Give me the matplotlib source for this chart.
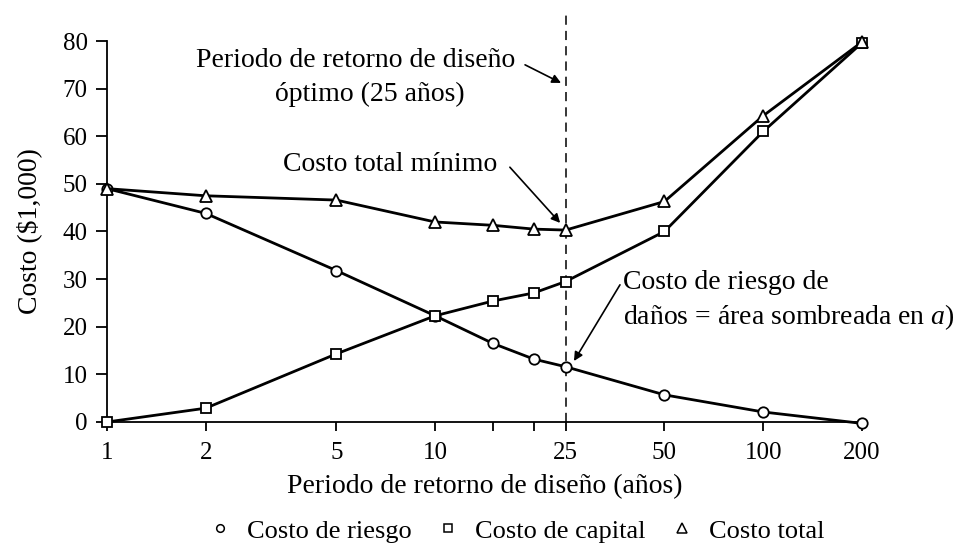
import matplotlib
matplotlib.use("Agg")
import matplotlib.pyplot as plt
from matplotlib.lines import Line2D

plt.rcParams['font.family'] = ['Liberation Serif', 'DejaVu Serif']
plt.rcParams['mathtext.fontset'] = 'custom'
plt.rcParams['mathtext.it'] = 'Liberation Serif:italic'
plt.rcParams['mathtext.rm'] = 'Liberation Serif'

periodos = [1, 2, 5, 10, 15, 20, 25, 50, 100, 200]
costo_riesgo = [49.0, 43.8, 31.8, 22.3, 16.5, 13.2, 11.6, 5.7, 2.1, -0.3]
costo_capital = [0.0, 2.9, 14.3, 22.3, 25.4, 27.1, 29.5, 40.0, 61.0, 79.6]
costo_total = [49.0, 47.5, 46.6, 42.0, 41.3, 40.5, 40.3, 46.3, 64.3, 79.8]
xticks = [1, 2, 5, 10, 25, 50, 100, 200]
xtick_minor = [15, 20]
yticks = [0, 10, 20, 30, 40, 50, 60, 70, 80]

fig = plt.figure(figsize=(9.59, 5.44), dpi=100)
ax = fig.add_axes([0.1116, 0.2243, 0.7872, 0.7003])
ax.set_xscale('log')
ax.set_xlim(1, 200)
ax.set_ylim(0, 80)

lw = 2.0
ax.plot(periodos, costo_riesgo, '-', color='black', lw=lw, marker='o', ms=7.5,
        mfc='white', mec='black', mew=1.3, clip_on=False, zorder=3)
ax.plot(periodos, costo_capital, '-', color='black', lw=lw, marker='s', ms=7,
        mfc='white', mec='black', mew=1.3, clip_on=False, zorder=3)
ax.plot(periodos, costo_total, '-', color='black', lw=lw, marker='^', ms=9,
        mfc='white', mec='black', mew=1.3, clip_on=False, zorder=3)

ax.axvline(25, ymin=0, ymax=1.076, color='black', lw=1.1, ls=(0, (6, 4)),
           clip_on=False, zorder=1)

for s in ['top', 'right']:
    ax.spines[s].set_visible(False)
for s in ['left', 'bottom']:
    ax.spines[s].set_linewidth(1.3)

ax.set_xticks(xticks)
ax.set_xticklabels([str(t) for t in xticks])
ax.set_xticks(xtick_minor, minor=True)
ax.set_xticklabels([], minor=True)
ax.set_yticks(yticks)
ax.tick_params(axis='both', which='both', direction='out', labelsize=18,
               width=1.3, colors='black')
ax.tick_params(axis='y', length=8, pad=6)
ax.tick_params(axis='x', which='both', length=6.5, pad=8)

fs = 20
ax.set_xlabel('Periodo de retorno de diseño (años)', fontsize=fs, labelpad=7)
ax.set_ylabel('Costo ($1,000)', fontsize=fs, labelpad=15)

arrow = dict(arrowstyle='-|>', color='black', lw=1.2, shrinkA=0, shrinkB=0,
             mutation_scale=13)

ax.text(5.74, 76.0, 'Periodo de retorno de diseño', fontsize=fs,
        ha='center', va='center')
ax.text(6.34, 68.7, 'óptimo (25 años)', fontsize=fs, ha='center', va='center')
ax.annotate('', xy=(24.2, 71.2), xytext=(18.8, 75.0), arrowprops=arrow,
            annotation_clip=False)

ax.text(7.29, 54.0, 'Costo total mínimo', fontsize=fs, ha='center', va='center')
ax.annotate('', xy=(24.05, 41.8), xytext=(16.9, 53.5), arrowprops=arrow,
            annotation_clip=False)

ax.text(37.4, 29.2, 'Costo de riesgo de', fontsize=fs, ha='left', va='center')
ax.text(37.4, 22.0, 'daños = área sombreada en $a$)', fontsize=fs,
        ha='left', va='center')
ax.annotate('', xy=(26.5, 12.8), xytext=(36.6, 28.8), arrowprops=arrow,
            annotation_clip=False)

handles = [
    Line2D([], [], ls='none', marker='o', ms=5.5, mfc='white', mec='black', mew=1.1),
    Line2D([], [], ls='none', marker='s', ms=5.5, mfc='white', mec='black', mew=1.1),
    Line2D([], [], ls='none', marker='^', ms=6.5, mfc='white', mec='black', mew=1.1),
]
fig.legend(handles, ['Costo de riesgo', 'Costo de capital', 'Costo total'],
           loc='center', bbox_to_anchor=(0.539, 0.024), ncol=3, frameon=False,
           fontsize=19, handlelength=0.8, handletextpad=0.6, columnspacing=1.0,
           borderpad=0, borderaxespad=0)

fig.savefig('out.png', dpi=100, facecolor='white')
